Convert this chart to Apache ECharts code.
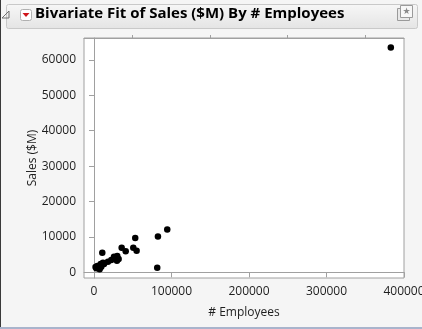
<!DOCTYPE html>
<html>
<head>
<meta charset="utf-8">
<script src="https://cdn.jsdelivr.net/npm/echarts@6/dist/echarts.min.js"></script>
<style>
  html, body { margin: 0; padding: 0; background: #f5f5f5; }
  #chart { width: 422px; height: 329px; }
</style>
</head>
<body>
<div id="chart"></div>
<script>
// Company headcount vs. revenue
const employees = [383000, 94500, 82500, 53200, 81600, 35700, 40900, 50700, 55000, 10700,
                   30000, 25800, 31800, 22300, 18000, 11600, 8600, 4300, 9400, 3000,
                   7300, 12900, 29600, 2000, 6000];
const sales     = [63500, 12100, 10100, 9700, 1300, 6950, 5930, 6950, 6100, 5540,
                   4600, 4400, 3760, 3480, 3000, 2710, 2350, 1780, 1580, 1130,
                   850, 2350, 3300, 1500, 1400];

const xTicks = [0, 100000, 200000, 300000, 400000];
const xMinorTicks = [50000, 150000, 250000, 350000];
const yTicks = [0, 10000, 20000, 30000, 40000, 50000, 60000];

const points = employees.map((e, i) => [e, sales[i]]);

const font = '"Open Sans", "Noto Sans", sans-serif';
const axisGray = '#a0a0a0';
const textColor = '#1e1e1e';
const plain = v => String(v);

const chart = echarts.init(document.getElementById('chart'), null, { renderer: 'canvas' });

const baseX = {
  type: 'value', min: -12900, max: 400000,
  splitLine: { show: false },
  axisLine: { show: true, lineStyle: { color: axisGray } }
};

chart.setOption({
  animation: false,
  backgroundColor: '#f5f5f5',
  grid: {
    left: 84, right: 18, top: 38, bottom: 51,
    containLabel: false, outerBoundsMode: 'none',
    show: true, backgroundColor: '#ffffff', borderColor: axisGray, borderWidth: 1
  },
  xAxis: [
    Object.assign({}, baseX, {
      name: '# Employees', nameLocation: 'middle', nameGap: 29, nameMoveOverlap: false,
      nameTextStyle: { fontFamily: font, fontSize: 12, color: textColor },
      axisTick: { show: true, length: 5, customValues: xTicks, lineStyle: { color: axisGray } },
      axisLabel: { customValues: xTicks, margin: 8, formatter: plain, fontFamily: font, fontSize: 12, color: textColor }
    }),
    Object.assign({}, baseX, {
      axisTick: { show: true, length: 3, customValues: xMinorTicks, lineStyle: { color: axisGray } },
      axisLabel: { show: false }
    })
  ],
  yAxis: {
    type: 'value', min: -1600, max: 66200,
    name: 'Sales ($M)', nameLocation: 'middle', nameGap: 45, nameMoveOverlap: false,
    nameTextStyle: { fontFamily: font, fontSize: 12, color: textColor },
    splitLine: { show: false },
    axisLine: { show: true, lineStyle: { color: axisGray } },
    axisTick: { show: true, length: 5, customValues: yTicks, lineStyle: { color: axisGray } },
    axisLabel: { customValues: yTicks, margin: 8, formatter: plain, fontFamily: font, fontSize: 12, color: textColor }
  },
  series: [{
    type: 'scatter',
    xAxisIndex: 0,
    data: points,
    symbol: 'circle',
    symbolSize: 6.5,
    itemStyle: { color: '#000000', opacity: 1 }
  }],
  graphic: [
    // report outline header
    {
      type: 'rect', left: 6, top: 4, silent: true,
      shape: { width: 411, height: 24, r: 2 },
      style: {
        fill: new echarts.graphic.LinearGradient(0, 0, 0, 1, [
          { offset: 0, color: '#f7f7f7' }, { offset: 1, color: '#e4e4e4' }
        ]),
        stroke: '#c9c9c9', lineWidth: 1
      }
    },
    // disclosure triangle
    {
      type: 'polygon', silent: true,
      shape: { points: [[9, 11], [9, 18], [2, 18]] },
      style: { fill: 'none', stroke: '#707070', lineWidth: 1 }
    },
    // red hotspot button
    {
      type: 'rect', silent: true,
      shape: { x: 20.5, y: 9.5, width: 11, height: 11, r: 2 },
      style: { fill: '#ffffff', stroke: '#b0b0b0', lineWidth: 1 }
    },
    {
      type: 'polygon', silent: true,
      shape: { points: [[22.5, 13], [29.5, 13], [26, 17]] },
      style: { fill: '#d0161b' }
    },
    {
      type: 'text', left: 35, top: 6, silent: true,
      style: {
        text: 'Bivariate Fit of Sales ($M) By # Employees',
        font: 'bold 15px ' + font, fill: '#000000'
      }
    },
    // pin icon
    {
      type: 'rect', silent: true,
      shape: { x: 397.5, y: 8.5, width: 12, height: 12 },
      style: { fill: '#e8e8e8', stroke: '#9a9a9a', lineWidth: 1 }
    },
    {
      type: 'rect', silent: true,
      shape: { x: 400.5, y: 5.5, width: 12, height: 12 },
      style: { fill: '#f7f7f7', stroke: '#9a9a9a', lineWidth: 1 }
    },
    {
      type: 'text', silent: true, x: 406.5, y: 11.5,
      style: { text: '★', font: '9px "DejaVu Sans"', fill: '#8a8a8a', align: 'center', verticalAlign: 'middle' }
    },
    // window edges
    {
      type: 'rect', silent: true,
      shape: { x: 0, y: 0, width: 1, height: 329 },
      style: { fill: '#3a3a3a' }
    },
    {
      type: 'rect', silent: true,
      shape: { x: 0, y: 327, width: 422, height: 2 },
      style: { fill: '#a9b4cc' }
    }
  ]
});
</script>
</body>
</html>
